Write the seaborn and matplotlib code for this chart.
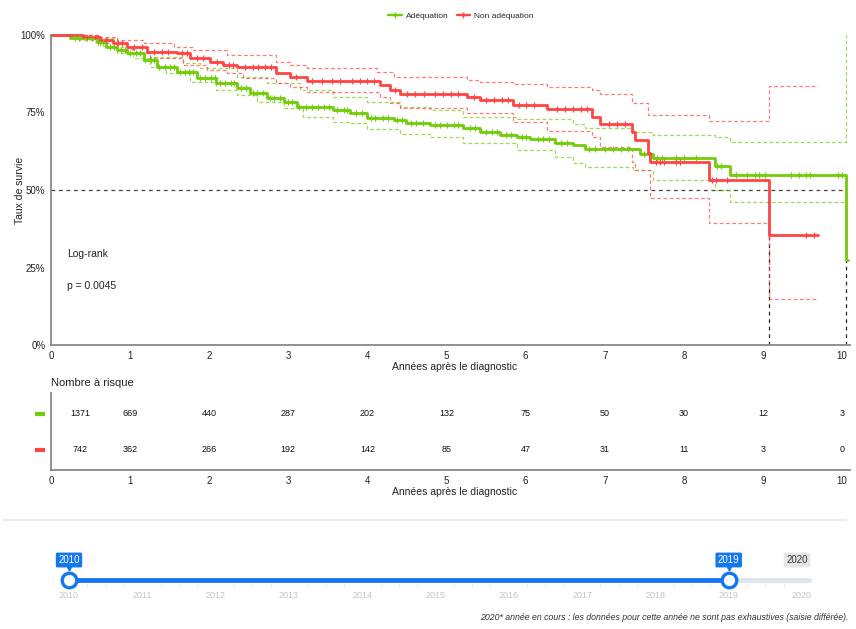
import numpy as np
import matplotlib
matplotlib.use("Agg")
import matplotlib.pyplot as plt
import seaborn as sns
from matplotlib.lines import Line2D

# --- survival curves (years, survival) ---
green_t = [0, 0.24, 0.58, 0.70, 0.83, 0.96, 1.17, 1.34, 1.59, 1.84, 2.09, 2.35, 2.52, 2.73, 2.94,
           3.11, 3.57, 3.78, 3.99, 4.33, 4.49, 4.79, 5.21, 5.42, 5.68, 5.89, 6.06, 6.37, 6.60,
           6.75, 7.45, 7.61, 8.39, 8.58, 10.05, 10.07]
green_s = [1.0, 0.989, 0.978, 0.962, 0.952, 0.941, 0.919, 0.898, 0.882, 0.86, 0.846, 0.828, 0.812,
           0.796, 0.785, 0.769, 0.758, 0.747, 0.733, 0.726, 0.715, 0.71, 0.699, 0.688, 0.677, 0.672,
           0.663, 0.653, 0.645, 0.631, 0.616, 0.602, 0.578, 0.55, 0.274, 0.274]

green_up_t = [0, 0.62, 0.83, 1.04, 1.25, 1.67, 1.88, 2.35, 2.73, 3.15, 3.57, 3.99, 4.41, 4.79, 5.21,
              5.89, 6.60, 6.75, 7.36, 7.61, 8.39, 8.58, 10.05]
green_up_s = [1.0, 0.99, 0.962, 0.946, 0.93, 0.909, 0.892, 0.866, 0.844, 0.823, 0.8, 0.785, 0.769,
              0.758, 0.737, 0.729, 0.713, 0.701, 0.688, 0.677, 0.67, 0.654, 1.0]

green_lo_t = [0, 0.35, 0.62, 0.83, 1.04, 1.25, 1.46, 1.76, 2.09, 2.35, 2.60, 2.94, 3.19, 3.57, 3.78,
              3.99, 4.41, 4.79, 5.21, 5.89, 6.37, 6.60, 6.75, 7.36, 7.61, 8.39, 8.58, 10.05]
green_lo_s = [1.0, 0.985, 0.965, 0.941, 0.925, 0.898, 0.876, 0.849, 0.823, 0.806, 0.785, 0.763,
              0.737, 0.72, 0.715, 0.697, 0.68, 0.672, 0.651, 0.629, 0.607, 0.586, 0.575, 0.565,
              0.532, 0.50, 0.46, 0.46]

red_t = [0, 0.41, 0.62, 0.79, 0.96, 1.21, 1.59, 1.76, 2.01, 2.18, 2.35, 2.85, 3.02, 3.23, 4.16,
         4.28, 4.41, 5.26, 5.42, 5.84, 6.27, 6.84, 6.94, 7.34, 7.38, 7.55, 7.57, 8.32, 9.08, 9.69]
red_s = [1.0, 0.995, 0.984, 0.973, 0.962, 0.946, 0.941, 0.925, 0.914, 0.903, 0.896, 0.876, 0.866,
         0.852, 0.839, 0.823, 0.81, 0.799, 0.79, 0.774, 0.76, 0.737, 0.713, 0.688, 0.661, 0.618,
         0.591, 0.532, 0.355, 0.355]

red_up_t = [0, 0.62, 0.83, 1.17, 1.55, 1.80, 2.22, 2.85, 3.02, 3.23, 4.12, 4.33, 5.26, 5.42, 5.84,
            6.27, 6.84, 6.94, 7.34, 7.55, 8.32, 9.08, 9.69]
red_up_s = [1.0, 0.995, 0.984, 0.973, 0.962, 0.952, 0.935, 0.914, 0.903, 0.892, 0.882, 0.863,
            0.855, 0.849, 0.842, 0.831, 0.823, 0.809, 0.78, 0.742, 0.724, 0.835, 0.835]

red_lo_t = [0, 0.62, 0.83, 1.04, 1.25, 1.67, 1.97, 2.22, 2.43, 2.85, 3.02, 3.23, 4.16, 4.28, 4.41,
            5.26, 5.84, 6.27, 6.84, 6.94, 7.34, 7.38, 7.57, 8.32, 9.08, 9.69]
red_lo_s = [1.0, 0.975, 0.955, 0.941, 0.925, 0.903, 0.887, 0.876, 0.86, 0.844, 0.833, 0.815, 0.801,
            0.78, 0.763, 0.749, 0.72, 0.691, 0.672, 0.64, 0.591, 0.565, 0.473, 0.393, 0.148, 0.148]

# censored observations (years)
green_cens = [0.3, 0.36, 0.45, 0.52, 0.6, 0.66, 0.74, 0.8, 0.88, 0.93, 1.0, 1.08, 1.12, 1.19, 1.26,
              1.3, 1.37, 1.44, 1.5, 1.56, 1.63, 1.69, 1.75, 1.8, 1.88, 1.95, 2.02, 2.07, 2.14, 2.2,
              2.27, 2.31, 2.4, 2.46, 2.55, 2.6, 2.68, 2.77, 2.82, 2.9, 3.0, 3.05, 3.14, 3.22, 3.3,
              3.38, 3.45, 3.52, 3.62, 3.7, 3.74, 3.85, 3.93, 4.05, 4.1, 4.2, 4.26, 4.38, 4.44, 4.55,
              4.62, 4.7, 4.85, 4.92, 5.0, 5.1, 5.15, 5.3, 5.36, 5.5, 5.58, 5.64, 5.75, 5.82, 5.95,
              6.0, 6.15, 6.22, 6.3, 6.45, 6.52, 6.8, 6.88, 7.0, 7.1, 7.2, 7.3, 7.5, 7.66, 7.72, 7.9,
              8.0, 8.15, 8.42, 8.47, 8.66, 8.8, 8.9, 8.95, 9.02, 9.35, 9.45, 9.55, 9.6, 9.95, 10.0]
red_cens = [0.45, 0.55, 0.7, 0.85, 0.9, 1.05, 1.15, 1.3, 1.4, 1.48, 1.65, 1.72, 1.85, 1.92, 2.1,
            2.25, 2.3, 2.45, 2.55, 2.62, 2.7, 2.78, 3.1, 3.3, 3.42, 3.55, 3.65, 3.8, 3.9, 4.0, 4.08,
            4.35, 4.5, 4.6, 4.72, 4.85, 4.95, 5.05, 5.15, 5.35, 5.5, 5.6, 5.7, 5.78, 5.92, 6.0, 6.1,
            6.4, 6.5, 6.6, 6.7, 6.78, 7.05, 7.15, 7.25, 7.65, 7.7, 7.75, 7.9, 7.95, 8.35, 8.4, 8.55,
            9.55, 9.65]

medians = [9.08, 10.05]

# number at risk table
risk_years = list(range(0, 11))
green_risk = [1371, 669, 440, 287, 202, 132, 75, 50, 30, 12, 3]
red_risk = [742, 362, 266, 192, 142, 85, 47, 31, 11, 3, 0]

group_names = ["Adéquation", "Non adéquation"]
p_value = "p = 0.0045"

# year slider
slider_years = list(range(2010, 2021))
slider_sel = [2010, 2019]

GREEN = "#72CC0A"
RED = "#FF4444"
BLUE = "#1577F0"
AXC = "#888888"

sns.set_style("white")
plt.rcParams["font.family"] = ["Liberation Sans", "DejaVu Sans"]

W, H = 856, 629
fig = plt.figure(figsize=(W / 100, H / 100), dpi=100)


def fx(px):
    return px / W


def fy(py):
    return 1 - py / H


def step_at(t_arr, s_arr, c):
    i = np.searchsorted(t_arr, c, side="right") - 1
    return s_arr[i]


# ---------------- main survival plot ----------------
ax = fig.add_axes([fx(51), fy(345), fx(799), 310 / H])
dash = (0, (3, 2))
for (tt, ss, col) in [(green_up_t, green_up_s, GREEN), (green_lo_t, green_lo_s, GREEN),
                      (red_up_t, red_up_s, RED), (red_lo_t, red_lo_s, RED)]:
    sns.lineplot(x=tt, y=ss, drawstyle="steps-post", estimator=None, sort=False,
                 color=col, lw=0.9, alpha=0.7, linestyle=dash, ax=ax, clip_on=False)

sns.lineplot(x=green_t, y=green_s, drawstyle="steps-post", estimator=None, sort=False,
             color=GREEN, lw=2.0, ax=ax, clip_on=False)
sns.lineplot(x=red_t, y=red_s, drawstyle="steps-post", estimator=None, sort=False,
             color=RED, lw=2.0, ax=ax, clip_on=False)

gcy = [step_at(green_t, green_s, c) for c in green_cens]
rcy = [step_at(red_t, red_s, c) for c in red_cens]
sns.scatterplot(x=green_cens, y=gcy, marker="+", s=16, color=GREEN, linewidth=0.9, ax=ax, zorder=4)
sns.scatterplot(x=red_cens, y=rcy, marker="+", s=16, color=RED, linewidth=0.9, ax=ax, zorder=4)

# median survival lines
ax.plot([0, max(medians)], [0.5, 0.5], color="#444444", lw=0.9, linestyle=(0, (3, 3)), zorder=1)
for m in medians:
    ax.plot([m, m], [0, 0.5], color="#222222", lw=0.9, linestyle=(0, (3, 3)), zorder=1)

ax.set_xlim(0, 10.1)
ax.set_ylim(0, 1)
ax.set_xticks(risk_years)
ax.set_yticks([0, 0.25, 0.5, 0.75, 1.0])
ax.set_yticklabels(["0%", "25%", "50%", "75%", "100%"])
ax.tick_params(labelsize=7, length=3, width=1, color=AXC, pad=1.0, labelcolor="#222222")
for side in ["top", "right"]:
    ax.spines[side].set_visible(False)
for side in ["left", "bottom"]:
    ax.spines[side].set_color(AXC)
    ax.spines[side].set_linewidth(1.3)
ax.set_xlabel("Années après le diagnostic", fontsize=7.5, color="#222222")
ax.xaxis.set_label_coords((455 - 51) / 799, -0.056)
ax.set_ylabel("Taux de survie", fontsize=7.5, color="#222222")
ax.yaxis.set_label_coords(-26 / 799, 0.5)
ax.text(0.2, 0.294, "Log-rank", fontsize=7.5, va="center", color="#222222")
ax.text(0.2, 0.19, p_value, fontsize=7.5, va="center", color="#222222")

handles = [Line2D([0], [0], color=GREEN, lw=1.7, marker="+", markersize=4),
           Line2D([0], [0], color=RED, lw=1.7, marker="+", markersize=4)]
fig.legend(handles, group_names, loc="center", bbox_to_anchor=(fx(461), fy(16.5)), ncol=2,
           frameon=False, fontsize=6, handlelength=1.6, columnspacing=1.0, handletextpad=0.5)

# ---------------- risk table ----------------
ax2 = fig.add_axes([fx(51), fy(470), fx(799), 77 / H])
row_y = [0.73, 0.26]
for vals, y, col in [(green_risk, row_y[0], GREEN), (red_risk, row_y[1], RED)]:
    for yr, v in zip(risk_years, vals):
        xpos = 0.37 if yr == 0 else yr
        ax2.text(xpos, y, str(v), ha="center", va="center", fontsize=6.5, color="#111111")
    ax2.plot([-0.020, -0.0075], [y, y], transform=ax2.transAxes, color=col, lw=3,
             solid_capstyle="butt", clip_on=False)
ax2.set_xlim(0, 10.1)
ax2.set_ylim(0, 1)
ax2.set_xticks(risk_years)
ax2.set_yticks([])
ax2.tick_params(labelsize=7, length=3, width=1, color=AXC, pad=1.0, labelcolor="#222222")
for side in ["top", "right"]:
    ax2.spines[side].set_visible(False)
for side in ["left", "bottom"]:
    ax2.spines[side].set_color(AXC)
    ax2.spines[side].set_linewidth(1.3)
ax2.set_xlabel("Années après le diagnostic", fontsize=7.5, color="#222222")
ax2.xaxis.set_label_coords((455 - 51) / 799, -0.215)
ax2.text(0, (470 - 383) / 77, "Nombre à risque", transform=ax2.transAxes, fontsize=8,
         va="center", ha="left", color="#222222")

# ---------------- year slider ----------------
ax3 = fig.add_axes([0, 0, 1, 129 / H])
ppy = (802 - 69) / 10
ax3.set_xlim(2010 - 69 / ppy, 2010 + (W - 69) / ppy)
ax3.set_ylim(629, 500)
ax3.axis("off")
ax3.plot([2009.1, 2020.6], [520, 520], color="#ececec", lw=1.5)
ax3.plot([slider_sel[1], slider_years[-1] + 0.1], [580, 580], color="#dfe5ec", lw=3.5,
         solid_capstyle="round")
ax3.plot(slider_sel, [580, 580], color=BLUE, lw=3.5, solid_capstyle="round")
for yr in slider_years[:-1]:
    for q in [0.25, 0.5, 0.75]:
        ax3.plot([yr + q, yr + q], [584, 587], color="#e6e6e6", lw=0.7)
sns.scatterplot(x=slider_sel, y=[580, 580], s=110, color="white", edgecolor=BLUE,
                linewidth=2.4, ax=ax3, zorder=5)
for yr in slider_years:
    ax3.text(yr, 596, str(yr), ha="center", va="center", fontsize=6.5, color="#c4c4c4")
for yr in slider_sel:
    ax3.text(yr, 560, str(yr), ha="center", va="center", fontsize=7, color="white",
             bbox=dict(boxstyle="round,pad=0.25,rounding_size=0.15", fc=BLUE, ec="none"))
    ax3.plot([yr], [567.5], marker="v", markersize=3.5, color=BLUE)
ax3.text(slider_years[-1] - 0.07, 560, str(slider_years[-1]), ha="center", va="center",
         fontsize=7, color="#333333",
         bbox=dict(boxstyle="round,pad=0.25,rounding_size=0.15", fc="#e6e6e6", ec="none"))
ax3.text(2010 + (848 - 69) / ppy, 618,
         "2020* année en cours : les données pour cette année ne sont pas exhaustives (saisie différée).",
         ha="right", va="center", fontsize=6.3, style="italic", color="#333333")

fig.savefig("out.png", dpi=100)
